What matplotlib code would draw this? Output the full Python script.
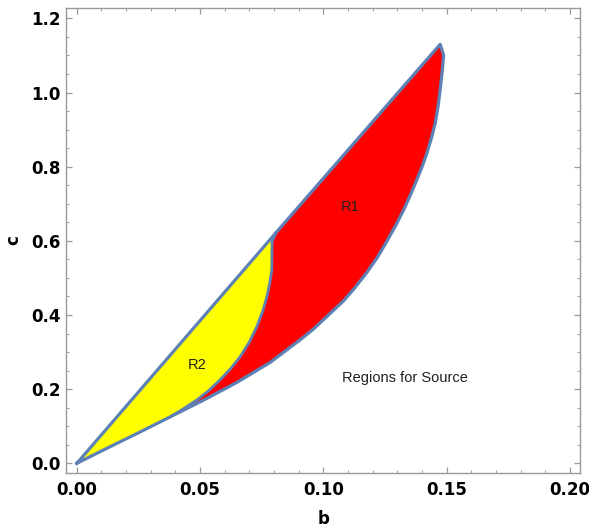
import numpy as np
import matplotlib.pyplot as plt
from matplotlib.ticker import MultipleLocator

# upper straight boundary: origin -> junction -> tip
upper_b = [0.0, 0.0808, 0.1474]
upper_c = [0.0, 0.622, 1.130]

# lower boundary from the origin up to the tip
lower_b = [0.0, 0.0054, 0.0108, 0.0243, 0.0378, 0.0513, 0.0649, 0.0784,
           0.0906, 0.096, 0.1082, 0.1125, 0.1177, 0.122, 0.1258, 0.1295,
           0.1325, 0.1355, 0.1379, 0.1402, 0.142, 0.1439, 0.1454, 0.1466,
           0.1474, 0.1483, 0.1488, 0.1474]
lower_c = [0.0, 0.018, 0.036, 0.080, 0.125, 0.170, 0.218, 0.272,
           0.333, 0.362, 0.438, 0.471, 0.515, 0.556, 0.599, 0.643,
           0.682, 0.726, 0.764, 0.802, 0.836, 0.878, 0.917, 0.965,
           1.007, 1.062, 1.101, 1.130]
meet = 4  # index where the R1/R2 divider reaches the lower boundary

# R1 / R2 divider, junction on the upper line down to the lower boundary
div_b = [0.0808, 0.0792, 0.0791, 0.0783, 0.0771, 0.0755, 0.073, 0.070,
         0.0662, 0.0625, 0.0581, 0.0535, 0.0487, 0.043, 0.0378]
div_c = [0.622, 0.598, 0.521, 0.487, 0.449, 0.412, 0.368, 0.327,
         0.287, 0.256, 0.225, 0.196, 0.171, 0.146, 0.125]

labels = {"R1": (0.1109, 0.691), "R2": (0.0488, 0.265)}
note = "Regions for Source"
note_pos = (0.1333, 0.230)

edge_col = "#5E81B5"

fig = plt.figure(figsize=(5.89, 5.30), dpi=100)
ax = fig.add_axes([0.112, 0.108, 0.873, 0.877])

# R1 polygon
r1_b = upper_b[1:] + lower_b[meet:][::-1][1:] + div_b[::-1][1:]
r1_c = upper_c[1:] + lower_c[meet:][::-1][1:] + div_c[::-1][1:]
ax.fill(r1_b, r1_c, color="#FF0000", lw=0, zorder=1)

# R2 polygon
r2_b = upper_b[:2] + div_b[1:] + lower_b[:meet + 1][::-1][1:]
r2_c = upper_c[:2] + div_c[1:] + lower_c[:meet + 1][::-1][1:]
ax.fill(r2_b, r2_c, color="#FFFF00", lw=0, zorder=1)

# boundaries
ax.plot(lower_b + upper_b[::-1][1:], lower_c + upper_c[::-1][1:],
        color=edge_col, lw=2.3, solid_joinstyle="round", zorder=3)
ax.plot(div_b, div_c, color=edge_col, lw=2.0, solid_joinstyle="round", zorder=3)

for name, (x, y) in labels.items():
    ax.text(x, y, name, fontsize=10.5, family="Liberation Sans", color="#222222",
            ha="center", va="center", zorder=4)
ax.text(note_pos[0], note_pos[1], note, fontsize=10.5, family="Liberation Sans",
        color="#222222", ha="center", va="center")

ax.set_xlim(-0.0044, 0.2042)
ax.set_ylim(-0.0254, 1.228)
ax.xaxis.set_major_locator(MultipleLocator(0.05))
ax.xaxis.set_minor_locator(MultipleLocator(0.01))
ax.yaxis.set_major_locator(MultipleLocator(0.2))
ax.yaxis.set_minor_locator(MultipleLocator(0.05))
ax.xaxis.set_major_formatter(plt.FuncFormatter(lambda v, p: f"{v:.2f}"))
ax.yaxis.set_major_formatter(plt.FuncFormatter(lambda v, p: f"{v:.1f}"))

for s in ax.spines.values():
    s.set_color("#999999")
    s.set_linewidth(1.0)
ax.tick_params(which="both", direction="in", top=True, right=True, color="#999999")
ax.tick_params(which="major", length=4.5, width=0.9)
ax.tick_params(which="minor", length=2.5, width=0.7)
ax.tick_params(axis="x", which="major", pad=6)
ax.tick_params(axis="y", which="major", pad=4)
for lab in ax.get_xticklabels() + ax.get_yticklabels():
    lab.set_fontweight("bold")
    lab.set_fontsize(12)

ax.set_xlabel("b", fontsize=12, fontweight="bold", labelpad=8)
ax.set_ylabel("c", fontsize=12, fontweight="bold", labelpad=6)

fig.savefig("out.png", dpi=100)
